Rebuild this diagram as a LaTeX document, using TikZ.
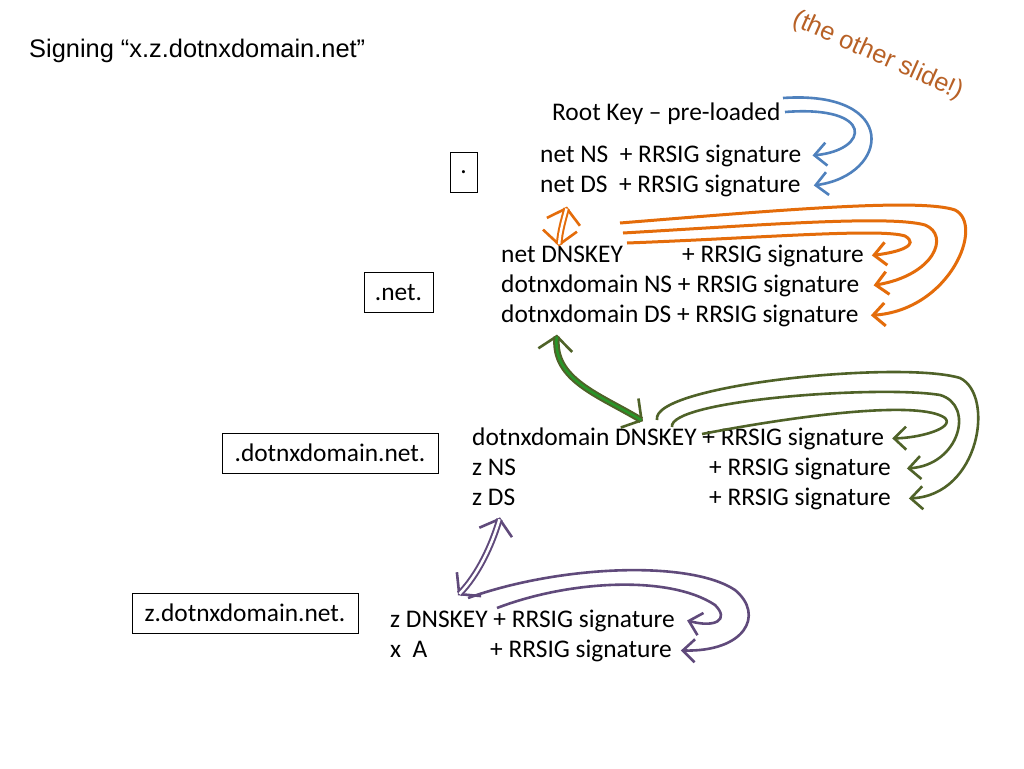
\documentclass[tikz,border=0pt]{standalone}
\usepackage{fontspec}
\setmainfont{Carlito}
\newfontfamily\arialfont{Liberation Sans}
\usetikzlibrary{arrows.meta}
\definecolor{keyblue}{RGB}{79,129,189}
\definecolor{keyorange}{RGB}{228,108,10}
\definecolor{keyolive}{RGB}{79,98,40}
\definecolor{keygreen}{RGB}{40,150,40}
\definecolor{keypurple}{RGB}{96,74,123}
\definecolor{notebrown}{RGB}{184,97,38}
\begin{document}
\begin{tikzpicture}[x=1pt,y=-1pt,
    entry/.style={anchor=base west,inner sep=0pt,font=\fontsize{25.4}{30}\selectfont},
    zone/.style={draw,line width=0.8pt,inner sep=0pt,minimum height=40pt,
      font=\fontsize{25.4}{30}\selectfont},
    link/.style={line width=2.6pt,-{Straight Barb[length=12pt,width=23pt]}},
    pair/.style={draw=#1,line width=2pt,double distance=2.5pt,shorten <=2pt,shorten >=2pt,
      preaction={draw=#1,line width=2.6pt,shorten <=0pt,shorten >=0pt,
        {Straight Barb[length=14pt,width=34pt]}-{Straight Barb[length=14pt,width=34pt]}}}]
  \useasboundingbox[fill=white] (0,0) rectangle (1024,768);
  % heading and remark
  \node[entry,font=\arialfont\fontsize{25.4}{30}\selectfont] (title) at (29,57)
    {Signing “x.z.dotnxdomain.net”};
  \node[inner sep=0pt,text=notebrown,rotate=-24,font=\arialfont\fontsize{25.4}{30}\selectfont]
    (note) at (878,56) {(the other slide!)};
  % zones
  \node[zone,minimum width=27pt] (rootzone) at (463.5,172) {.};
  \node[zone,minimum width=69pt] (netzone) at (398.5,292.5) {.net.};
  \node[zone,minimum width=216pt] (domzone) at (330,453) {.dotnxdomain.net.};
  \node[zone,minimum width=226pt] (zzone) at (245,613) {z.dotnxdomain.net.};
  % records
  \node[entry] (rootkey) at (552,120) {Root Key – pre-loaded};
  \node[entry] (netns) at (540,162) {net NS\ \ + RRSIG signature};
  \node[entry] (netds) at (540,192) {net DS\ \ + RRSIG signature};
  \node[entry] (netkey) at (501,262) {net DNSKEY};
  \node[entry] (netkeysig) at (682,262) {+ RRSIG signature};
  \node[entry] (domns) at (501,292) {dotnxdomain NS + RRSIG signature};
  \node[entry] (domds) at (501,322) {dotnxdomain DS + RRSIG signature};
  \node[entry] (domkey) at (472,445) {dotnxdomain DNSKEY + RRSIG signature};
  \node[entry] (zns) at (472,475) {z NS};
  \node[entry] (znssig) at (709,475) {+ RRSIG signature};
  \node[entry] (zds) at (472,505) {z DS};
  \node[entry] (zdssig) at (709,505) {+ RRSIG signature};
  \node[entry] (zkey) at (390,627) {z DNSKEY + RRSIG signature};
  \node[entry] (xa) at (390,657) {x\ \ A};
  \node[entry] (xasig) at (490,657) {+ RRSIG signature};
  % free ends of the signing curves
  \coordinate (rk1) at (783,98);
  \coordinate (rk2) at (785,112);
  \coordinate (nk1) at (620,223);
  \coordinate (nk2) at (623,233);
  \coordinate (nk3) at (627,243);
  \coordinate (dk1) at (657,420);
  \coordinate (dk2) at (672,427);
  \coordinate (dk3) at (702,434);
  \coordinate (zk1) at (468,598);
  \coordinate (zk2) at (497,608);
  % root key
  \draw[link,keyblue] (rk1) .. controls (900,90) and (890,175) .. ([xshift=13pt]netds.east);
  \draw[link,keyblue] (rk2) .. controls (875,105) and (870,150) .. ([xshift=11pt]netns.east);
  % net
  \path[pair=keyorange,double=white] ([shift={(27,10)}]netds.south west)
    .. controls (565,215) and (560,230) .. ([shift={(58,1)}]netkey.north west);
  \draw[link,keyorange,line width=3pt] (nk1) .. controls (780,210) and (920,198) .. (955,210)
    .. controls (985,225) and (950,310) .. ([xshift=12pt]domds.east);
  \draw[link,keyorange,line width=3pt] (nk2) .. controls (760,225) and (890,215) .. (925,225)
    .. controls (950,235) and (935,275) .. ([xshift=14pt]domns.east);
  \draw[link,keyorange,line width=3pt] (nk3) .. controls (760,238) and (880,228) .. (905,236)
    .. controls (920,245) and (900,252) .. ([xshift=8pt]netkeysig.east);
  % dotnxdomain
  \path[pair=keyolive,double=keygreen] ([shift={(56,8)}]domds.south west)
    .. controls (552,380) and (600,395) .. ([shift={(171,-6)}]domkey.north west);
  \draw[link,keyolive] (dk1) .. controls (650,385) and (900,360) .. (960,378)
    .. controls (995,395) and (980,495) .. ([xshift=18pt]zdssig.east);
  \draw[link,keyolive] (dk2) .. controls (668,400) and (880,385) .. (940,395)
    .. controls (975,405) and (960,465) .. ([xshift=16pt]znssig.east);
  \draw[link,keyolive] (dk3) .. controls (800,415) and (920,400) .. (945,418)
    .. controls (955,428) and (920,438) .. ([xshift=8pt]domkey.east);
  % z
  \path[pair=keypurple,double=white] ([shift={(28,12)}]zds.south west)
    .. controls (492,545) and (478,575) .. ([shift={(68,-14)}]zkey.north west);
  \draw[link,keypurple] (zk1) .. controls (560,565) and (690,560) .. (735,590)
    .. controls (765,615) and (745,652) .. ([xshift=9pt]xasig.east);
  \draw[link,keypurple] (zk2) .. controls (570,580) and (670,575) .. (715,605)
    .. controls (730,620) and (715,628) .. ([xshift=12pt]zkey.east);
\end{tikzpicture}
\end{document}
